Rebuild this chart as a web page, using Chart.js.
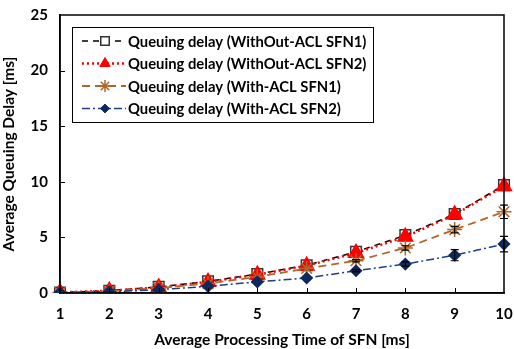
<!DOCTYPE html>
<html><head><meta charset="utf-8">
<script src="https://cdn.jsdelivr.net/npm/chart.js@4/dist/chart.umd.min.js"></script>
<style>html,body{margin:0;padding:0;background:#fff}#wrap{width:514px;height:349px}</style>
</head><body><div id="wrap"><canvas id="c" width="514" height="349"></canvas></div>
<script>
const categories = ['1','2','3','4','5','6','7','8','9','10'];
const withoutAclSfn1 = [0.05,0.2,0.55,1.05,1.7,2.5,3.7,5.2,7.1,9.7];
const withoutAclSfn2 = [0.05,0.2,0.5,1.0,1.65,2.45,3.6,5.05,7.05,9.6];
const withAclSfn1 = [0.04,0.15,0.45,0.85,1.45,2.2,2.9,4.05,5.7,7.3];
const withAclSfn2 = [0.02,0.1,0.3,0.6,1.0,1.35,2.0,2.6,3.4,4.4];
const errWithAclSfn1 = [0,0,0,0,0,0,0.1,0.2,0.3,0.6];
const errWithAclSfn2 = [0,0,0,0,0,0,0.1,0.2,0.5,0.7];
const yTicks = [0,5,10,15,20,25];
const seriesLabels = ['Queuing delay (WithOut-ACL SFN1)','Queuing delay (WithOut-ACL SFN2)','Queuing delay (With-ACL SFN1)','Queuing delay (With-ACL SFN2)'];

const FONT = 'Lato, "Open Sans", sans-serif';

const datasets = [
  {label: seriesLabels[0], data: withoutAclSfn1, borderColor:'#000', borderWidth:1.5, borderDash:[6,5], pointStyle:'rect', pointRadius:7.5, pointBorderColor:'#333', pointBackgroundColor:'rgba(255,255,255,0)', pointBorderWidth:1.5, order:4},
  {label: seriesLabels[1], data: withoutAclSfn2, borderColor:'#ff0000', borderWidth:2.5, borderDash:[2,3], pointStyle:'triangle', pointRadius:7.5, pointBorderColor:'#ff0000', pointBackgroundColor:'#ff0000', order:3},
  {label: seriesLabels[2], data: withAclSfn1, borderColor:'#b0652a', borderWidth:1.8, borderDash:[8,5], pointStyle:'star', pointRadius:7.5, pointBorderColor:'#b0652a', pointBackgroundColor:'#b0652a', pointBorderWidth:1.5, order:2, err: errWithAclSfn1},
  {label: seriesLabels[3], data: withAclSfn2, borderColor:'#1f3c88', borderWidth:1.5, borderDash:[8,3,2,3], pointStyle:'rectRot', pointRadius:5.5, pointBorderColor:'#0d2a5e', pointBackgroundColor:'#0d2a5e', order:1, err: errWithAclSfn2}
];
datasets.forEach(d=>{d.fill=false; d.tension=0;});

const extras = {
  id:'extras',
  afterDatasetsDraw(chart){
    const ctx = chart.ctx, a = chart.chartArea, xs = chart.scales.x, ys = chart.scales.y;
    ctx.save();
    chart.data.datasets.forEach(ds=>{
      if(!ds.err) return;
      ctx.strokeStyle = '#000'; ctx.lineWidth = 1.2; ctx.setLineDash([]);
      ds.data.forEach((v,i)=>{
        const e = ds.err[i]; if(!e) return;
        const x = xs.getPixelForValue(i), y1 = ys.getPixelForValue(v-e), y2 = ys.getPixelForValue(v+e);
        ctx.beginPath(); ctx.moveTo(x,y1); ctx.lineTo(x,y2);
        ctx.moveTo(x-4,y1); ctx.lineTo(x+4,y1); ctx.moveTo(x-4,y2); ctx.lineTo(x+4,y2); ctx.stroke();
      });
    });
    ctx.strokeStyle='#000'; ctx.lineWidth=1.5;
    ctx.strokeRect(a.left, a.top, a.right-a.left, a.bottom-a.top);
    ctx.lineWidth=1;
    ctx.beginPath();
    yTicks.forEach(t=>{ if(t===0||t===25) return; const y=Math.round(ys.getPixelForValue(t))+0.5; ctx.moveTo(a.left,y); ctx.lineTo(a.left+5,y);});
    categories.forEach((c,i)=>{ if(i===0||i===categories.length-1) return; const x=Math.round(xs.getPixelForValue(i))+0.5; ctx.moveTo(x,a.bottom); ctx.lineTo(x,a.bottom-5);});
    ctx.stroke();
    const lx=72, ly=27, lw=301, lh=95;
    ctx.fillStyle='#fff'; ctx.fillRect(lx,ly,lw,lh);
    ctx.strokeStyle='#000'; ctx.lineWidth=1; ctx.strokeRect(lx+0.5,ly+0.5,lw,lh);
    ctx.font = 'bold 14.8px '+FONT; ctx.textBaseline='middle'; ctx.textAlign='left';
    chart.data.datasets.forEach((ds,i)=>{
      const cy = ly + 14 + i*22.5;
      ctx.save();
      ctx.strokeStyle=ds.borderColor; ctx.lineWidth=ds.borderWidth; ctx.setLineDash(ds.borderDash);
      ctx.beginPath(); ctx.moveTo(lx+10,cy); ctx.lineTo(lx+54,cy); ctx.stroke();
      ctx.restore();
      ctx.save();
      ctx.fillStyle=ds.pointBackgroundColor; ctx.strokeStyle=ds.pointBorderColor; ctx.lineWidth=ds.pointBorderWidth||1; ctx.setLineDash([]);
      if(ds.pointStyle==='rect'){ ctx.fillStyle='#fff'; ctx.fillRect(lx+27,cy-6,12,12); }
      Chart.helpers.drawPoint(ctx,{pointStyle:ds.pointStyle, radius:ds.pointRadius*0.8, rotation:0, borderWidth:ds.pointBorderWidth||1}, lx+33, cy);
      ctx.restore();
      ctx.fillStyle='#000';
      ctx.fillText(ds.label, lx+56, cy+1);
    });
    ctx.restore();
  }
};

new Chart(document.getElementById('c'), {
  type:'line',
  data:{labels:categories, datasets},
  options:{
    responsive:false, animation:false,
    layout:{padding:{top:15,right:7,left:0,bottom:0}},
    plugins:{legend:{display:false}, tooltip:{enabled:false}},
    scales:{
      x:{
        offset:false,
        grid:{display:false, drawTicks:false},
        border:{display:true,color:'#000',width:1.5},
        ticks:{color:'#000', font:{family:FONT,size:15,weight:'bold'}, padding:12, maxRotation:0},
        title:{display:true,text:'Average Processing Time of SFN [ms]', color:'#000', font:{family:FONT,size:15.5,weight:'bold'}, padding:{top:3,bottom:0}},
        afterFit(s){s.height=56; s.paddingRight=0; s.paddingLeft=0;}
      },
      y:{
        min:0,max:25,
        grid:{display:false, drawTicks:false},
        border:{display:true,color:'#000',width:1.5},
        ticks:{stepSize:5, color:'#000', font:{family:FONT,size:15,weight:'bold'}, padding:12},
        title:{display:true,text:'Average Queuing Delay [ms]', color:'#000', font:{family:FONT,size:15.5,weight:'bold'}, padding:{top:0,bottom:4}},
        afterFit(s){s.width=60; s.paddingTop=0; s.paddingBottom=0;}
      }
    }
  },
  plugins:[extras]
});
</script></body></html>
